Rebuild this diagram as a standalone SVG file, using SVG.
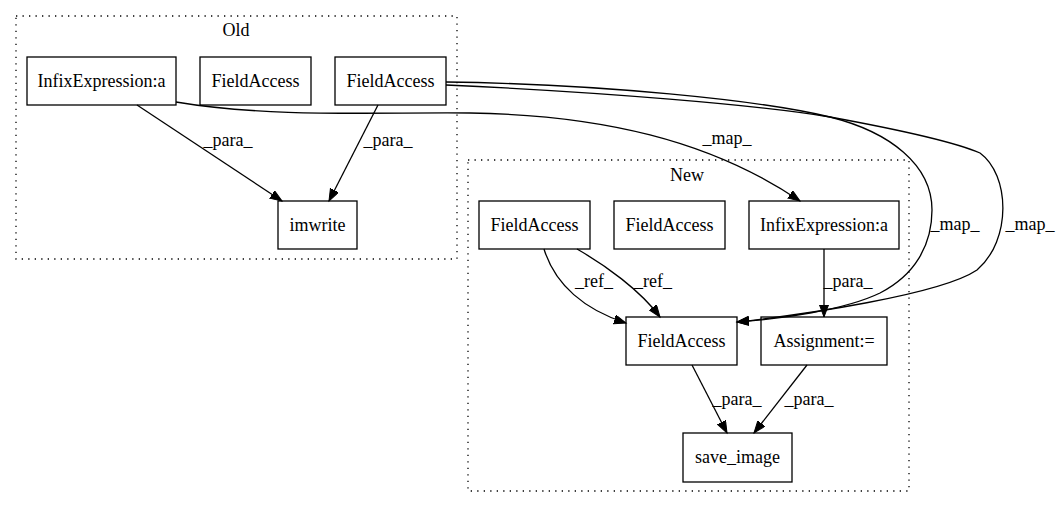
<svg xmlns="http://www.w3.org/2000/svg" width="1061" height="508" viewBox="0 0 1061 508">
<style>
text{font-family:"Liberation Serif","Times New Roman",serif;font-size:18px;fill:#000;text-anchor:middle}
.node rect{fill:#fff;stroke:#000;stroke-width:1.3}
.cluster{fill:none;stroke:#000;stroke-width:1.3;stroke-dasharray:1.3,5.2}
.edge{fill:none;stroke:#000;stroke-width:1.3}
</style>
<defs>
<marker id="ah" markerUnits="userSpaceOnUse" markerWidth="14" markerHeight="11" refX="12" refY="4.5" orient="auto">
<path d="M0,0 L12,4.5 L0,9 z" fill="#000" stroke="#000" stroke-width="1"/>
</marker>
</defs>
<rect width="1061" height="508" fill="#fff"/>
<g id="cluster_old">
<rect class="cluster" x="16" y="16" width="441" height="243"/>
<text x="236" y="36">Old</text>
</g>
<g id="cluster_new">
<rect class="cluster" x="468" y="160" width="441" height="331"/>
<text x="687" y="181">New</text>
</g>
<g id="old_infix" class="node"><rect x="27" y="57" width="149" height="48"/><text x="101.5" y="87">InfixExpression:a</text></g>
<g id="old_fa1" class="node"><rect x="200" y="57" width="111" height="48"/><text x="255.5" y="87">FieldAccess</text></g>
<g id="old_fa2" class="node"><rect x="335" y="57" width="111" height="48"/><text x="390.5" y="87">FieldAccess</text></g>
<g id="old_imwrite" class="node"><rect x="278" y="201" width="79" height="48"/><text x="317.5" y="231">imwrite</text></g>
<g id="new_fa_a" class="node"><rect x="479" y="201" width="111" height="48"/><text x="534.5" y="231">FieldAccess</text></g>
<g id="new_fa_b" class="node"><rect x="614" y="201" width="111" height="48"/><text x="669.5" y="231">FieldAccess</text></g>
<g id="new_infix" class="node"><rect x="749" y="201" width="150" height="48"/><text x="824" y="231">InfixExpression:a</text></g>
<g id="new_fa_c" class="node"><rect x="626" y="317" width="111" height="48"/><text x="681.5" y="347">FieldAccess</text></g>
<g id="new_assign" class="node"><rect x="761" y="317" width="126" height="48"/><text x="824" y="347">Assignment:=</text></g>
<g id="new_save" class="node"><rect x="683" y="433" width="109" height="49"/><text x="737.5" y="463">save_image</text></g>
<g id="connectors">
<path class="edge" marker-end="url(#ah)" d="M137,105 L282,201"/>
<text x="228" y="146">_para_</text>
<path class="edge" marker-end="url(#ah)" d="M378,105 L329,201"/>
<text x="388" y="146">_para_</text>
<path class="edge" marker-end="url(#ah)" d="M176,102 C270,118 380,112 470,113 C600,115 710,140 800,201"/>
<text x="727" y="144">_map_</text>
<path class="edge" marker-end="url(#ah)" d="M446,82 C600,84 760,100 830,117 C890,132 932,165 932,210 C932,245 915,275 880,293 C845,310 780,319 737,322"/>
<text x="955" y="230">_map_</text>
<path class="edge" marker-end="url(#ah)" d="M446,85 C600,92 760,105 830,117 C890,128 950,140 980,153 C1010,175 1012,240 977,270 C940,295 800,315 737,322"/>
<text x="1030" y="230">_map_</text>
<path class="edge" marker-end="url(#ah)" d="M544,249 C555,285 585,310 626,323"/>
<text x="594" y="287">_ref_</text>
<path class="edge" marker-end="url(#ah)" d="M577,249 C605,265 640,290 660,317"/>
<text x="653" y="287">_ref_</text>
<path class="edge" marker-end="url(#ah)" d="M824,249 L824,317"/>
<text x="848" y="287">_para_</text>
<path class="edge" marker-end="url(#ah)" d="M692,365 L727,433"/>
<text x="737" y="405">_para_</text>
<path class="edge" marker-end="url(#ah)" d="M807,365 L754,433"/>
<text x="809" y="405">_para_</text>
</g>
</svg>
